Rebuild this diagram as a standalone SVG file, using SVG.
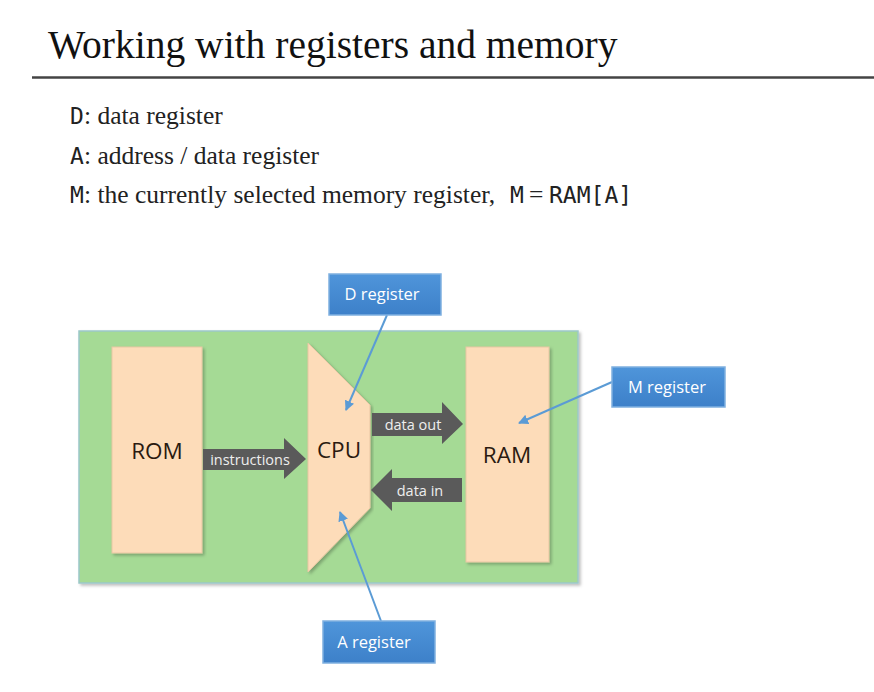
<svg xmlns="http://www.w3.org/2000/svg" width="874" height="692" viewBox="0 0 874 692">
<defs>
<style>
.title{font-family:"Liberation Serif",serif;font-size:39.5px;fill:#111}
.body{font-family:"Liberation Serif",serif;font-size:25.5px;fill:#222}
.mono{font-family:"DejaVu Sans Mono","Liberation Mono",monospace;font-size:23px;fill:#222}
.blk{font-family:"Open Sans","Noto Sans",sans-serif;font-size:22.5px;fill:#2a1a10;text-anchor:middle}
.arrt{font-family:"Open Sans","Noto Sans",sans-serif;font-size:14.5px;fill:#eeeeee;text-anchor:middle}
.reg{font-family:"Open Sans","Noto Sans",sans-serif;font-size:16.5px;fill:#ffffff;text-anchor:middle}
.peach{fill:#fddcb9;stroke:#e8c7a3;stroke-width:1}
.darr{fill:#5a5a5a}
.regbox{fill:url(#bl);stroke:#7fb0e0;stroke-width:1.5}
.con{stroke:#5b9bd5;stroke-width:2;fill:none}
</style>
<linearGradient id="bl" x1="0" y1="0" x2="0" y2="1">
<stop offset="0" stop-color="#4f95da"/>
<stop offset="1" stop-color="#3d80c9"/>
</linearGradient>
<marker id="ah" viewBox="0 0 10 10" refX="9" refY="5" markerWidth="5" markerHeight="5" orient="auto">
<path d="M0,0 L10,5 L0,10 z" fill="#5b9bd5"/>
</marker>
<filter id="sh" x="-5%" y="-5%" width="110%" height="110%">
<feDropShadow dx="2" dy="2" stdDeviation="1.5" flood-color="#000" flood-opacity="0.25"/>
</filter>
</defs>
<rect width="874" height="692" fill="#ffffff"/>
<g id="header">
<text class="title" x="48" y="58">Working with registers and memory</text>
<line x1="32" y1="77.5" x2="874" y2="77.5" stroke="#444" stroke-width="2.5"/>
<text class="mono" x="70" y="124">D</text>
<text class="body" x="84" y="124">: data register</text>
<text class="mono" x="70" y="164">A</text>
<text class="body" x="84" y="164">: address / data register</text>
<text class="mono" x="70" y="203">M</text>
<text class="body" x="84" y="203">: the currently selected memory register,</text>
<text class="mono" x="510" y="203">M</text>
<text class="body" x="529" y="203">=</text>
<text class="mono" x="549" y="203">RAM[A]</text>
</g>
<g id="computer">
<rect x="79" y="331" width="499" height="252" fill="#a5da95" stroke="#9cc7c9" stroke-width="1.5" filter="url(#sh)"/>
</g>
<g id="rom">
<rect class="peach" x="112" y="347" width="90" height="206" filter="url(#sh)"/>
<text class="blk" x="157" y="459">ROM</text>
</g>
<g id="cpu">
<polygon class="peach" points="308,343 370,405 370,508 308,572" filter="url(#sh)"/>
<text class="blk" x="339" y="458">CPU</text>
</g>
<g id="ram">
<rect class="peach" x="466" y="347" width="83" height="215" filter="url(#sh)"/>
<text class="blk" x="507" y="463">RAM</text>
</g>
<g id="connectors">
<polygon class="darr" points="203,449 284,449 284,438 306,459 284,479 284,470 203,470"/>
<text class="arrt" x="250" y="465">instructions</text>
<polygon class="darr" points="372,413 442,413 442,402 463,424 442,444 442,436 372,436"/>
<text class="arrt" x="413" y="430">data out</text>
<polygon class="darr" points="462,478 392,478 392,469 371,490 392,511 392,502 462,502"/>
<text class="arrt" x="420" y="496">data in</text>
<line class="con" x1="387" y1="315" x2="346" y2="410" marker-end="url(#ah)"/>
<line class="con" x1="381" y1="621" x2="340" y2="512" marker-end="url(#ah)"/>
<line class="con" x1="612" y1="382" x2="519" y2="423" marker-end="url(#ah)"/>
</g>
<g id="dreg">
<rect class="regbox" x="329" y="274" width="112" height="41"/>
<text class="reg" x="382" y="300">D register</text>
</g>
<g id="mreg">
<rect class="regbox" x="612" y="367" width="113" height="40"/>
<text class="reg" x="667" y="393">M register</text>
</g>
<g id="areg">
<rect class="regbox" x="323" y="621" width="112" height="42"/>
<text class="reg" x="374" y="648">A register</text>
</g>
</svg>
